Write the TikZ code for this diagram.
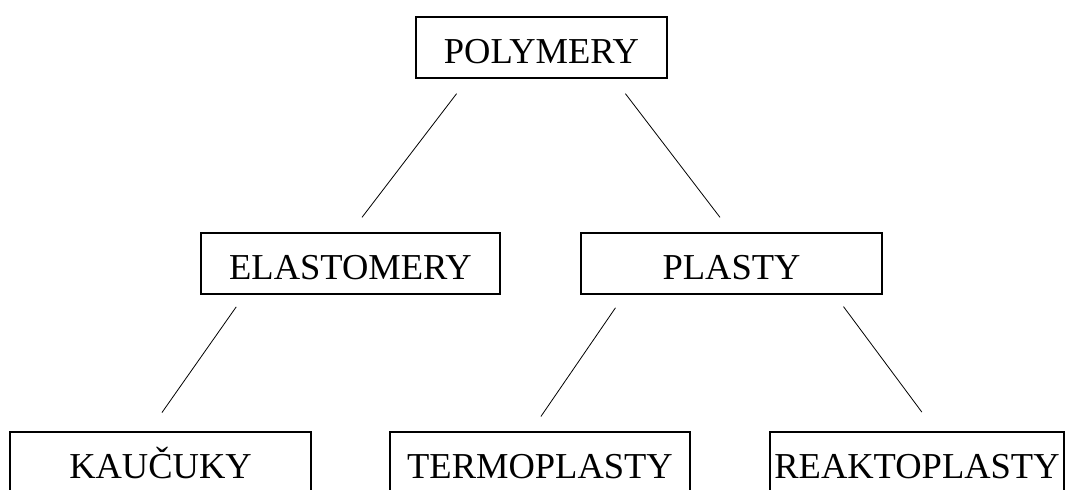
\documentclass[tikz,border=0pt]{standalone}
\usepackage{fontspec}
\setmainfont{Liberation Serif}
\usetikzlibrary{calc}

\begin{document}
\begin{tikzpicture}[
  x=1pt, y=-1pt,
  box/.style={draw, line width=1.2pt, inner sep=0pt, minimum height=61pt,
    text height=32pt, text depth=0pt, font=\fontsize{36.5}{40}\selectfont},
  link/.style={line width=0.8pt}
]
\useasboundingbox (0,0) rectangle (1069,490);

\node[box, minimum width=251pt] (pol) at (541.5,47.5) {POLYMERY};
\node[box, minimum width=299pt] (ela) at (350.5,263.5) {ELASTOMERY};
\node[box, minimum width=301pt] (pla) at (731.5,263.5) {PLASTY};
\node[box, minimum width=301pt] (kau) at (160.5,462.5) {KAUČUKY};
\node[box, minimum width=300pt] (ter) at (540,462.5) {TERMOPLASTY};
\node[box, minimum width=294pt] (rea) at (917,462.5) {REAKTOPLASTY};

\draw[link, shorten <=19pt, shorten >=19pt] ($(pol.south west)!0.209!(pol.south east)$) -- (ela.north);
\draw[link, shorten <=19pt, shorten >=19pt] ($(pol.south west)!0.787!(pol.south east)$) -- (pla.north);
\draw[link, shorten <=15pt, shorten >=23pt] ($(ela.south west)!0.148!(ela.south east)$) -- ($(kau.north west)!0.461!(kau.north east)$);
\draw[link, shorten <=16pt, shorten >=18pt] ($(pla.south west)!0.146!(pla.south east)$) -- ($(ter.north west)!0.469!(ter.north east)$);
\draw[link, shorten <=15pt, shorten >=24pt] ($(pla.south west)!0.841!(pla.south east)$) -- ($(rea.north west)!0.565!(rea.north east)$);
\end{tikzpicture}
\end{document}
